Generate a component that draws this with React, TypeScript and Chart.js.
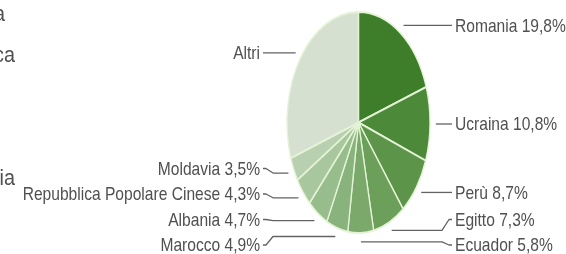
import React, { useEffect, useRef } from 'react';
import { Chart, registerables } from 'chart.js';

Chart.register(...registerables);

// ---- data ----
const CATEGORIES = [
  'Romania',
  'Ucraina',
  'Perù',
  'Egitto',
  'Ecuador',
  'Marocco',
  'Albania',
  'Repubblica Popolare Cinese',
  'Moldavia',
  'Altri',
];
const VALUES = [19.8, 10.8, 8.7, 7.3, 5.8, 4.9, 4.7, 4.3, 3.5, 30.2];
const SHOW_PERCENT = [true, true, true, true, true, true, true, true, true, false];
const COLORS = [
  '#3e7e2b',
  '#4c8a39',
  '#5c9549',
  '#6b9f5a',
  '#7aa96b',
  '#89b37c',
  '#98bd8d',
  '#a8c79f',
  '#b8d0b0',
  '#d6e0d1',
];
// cropped text fragments visible at the left edge of the picture
const EDGE_FRAGMENTS = ['a', 'ca', 'ia'];

// ---- layout / style ----
const SX = 0.647; // horizontal squash of the pie
const TEXT_SX = 0.82; // narrow text
const FONT = '19px "Liberation Sans", Arial, sans-serif';
const FRAG_FONT = '22px "Liberation Sans", Arial, sans-serif';
const TEXT_COLOR = '#505050';
const LINE_COLOR = '#636363';
const GAP = 25.5;
const MAX_Y = 245;
const MIN_Y = 12;
const FRAGMENT_POS = [
  { x: 5, y: 15 },
  { x: 15, y: 56 },
  { x: 15, y: 179 },
];

function fmt(v: number) {
  return v.toFixed(1).replace('.', ',') + '%';
}

function drawText(
  ctx: CanvasRenderingContext2D,
  text: string,
  x: number,
  y: number,
  align: CanvasTextAlign,
  sx: number = TEXT_SX
) {
  ctx.save();
  ctx.translate(x, y);
  ctx.scale(sx, 1);
  ctx.textAlign = align;
  ctx.textBaseline = 'middle';
  ctx.fillText(text, 0, 0);
  ctx.restore();
}

const squashPlugin = {
  id: 'squashPie',
  beforeDatasetsDraw(chart: any) {
    const arc = chart.getDatasetMeta(0).data[0];
    const ctx = chart.ctx;
    ctx.save();
    if (arc) {
      ctx.translate(arc.x, 0);
      ctx.scale(SX, 1);
      ctx.translate(-arc.x, 0);
    }
  },
  afterDatasetsDraw(chart: any) {
    chart.ctx.restore();
  },
  afterDraw(chart: any) {
    const ctx: CanvasRenderingContext2D = chart.ctx;
    const meta = chart.getDatasetMeta(0);
    const items = meta.data.map((el: any, i: number) => {
      const p = el.getProps(['x', 'y', 'startAngle', 'endAngle', 'outerRadius'], true);
      const a = (p.startAngle + p.endAngle) / 2;
      const r = p.outerRadius + 9;
      const ax = p.x + SX * r * Math.cos(a);
      const ay = p.y + r * Math.sin(a);
      const right = Math.cos(a) >= 0;
      const rx = SX * p.outerRadius;
      const lx = right ? p.x + rx + 22 : p.x - rx - 24;
      return { i, ax, ay, ly: ay, right, lx };
    });

    for (const side of [true, false]) {
      const list = items.filter((it: any) => it.right === side).sort((a: any, b: any) => a.ay - b.ay);
      for (let k = 0; k < list.length; k++) {
        let y = Math.max(list[k].ay, MIN_Y);
        if (k > 0) y = Math.max(y, list[k - 1].ly + GAP);
        list[k].ly = y;
      }
      if (list.length) {
        const last = list[list.length - 1];
        last.ly = Math.min(last.ly, MAX_Y);
        for (let k = list.length - 2; k >= 0; k--) {
          list[k].ly = Math.min(list[k].ly, list[k + 1].ly - GAP);
        }
      }
    }

    ctx.save();
    ctx.strokeStyle = LINE_COLOR;
    ctx.lineWidth = 1.3;
    ctx.lineJoin = 'round';
    ctx.font = FONT;
    ctx.fillStyle = TEXT_COLOR;
    for (const it of items) {
      const dir = it.right ? 1 : -1;
      ctx.beginPath();
      ctx.moveTo(it.ax, it.ay);
      ctx.lineTo(it.lx - dir * 10, it.ay);
      ctx.lineTo(it.lx - dir * 3, it.ly);
      ctx.lineTo(it.lx, it.ly);
      ctx.stroke();
      const label = SHOW_PERCENT[it.i] ? `${CATEGORIES[it.i]} ${fmt(VALUES[it.i])}` : CATEGORIES[it.i];
      drawText(ctx, label, it.lx + dir * 3, it.ly + 1, it.right ? 'left' : 'right');
    }
    ctx.font = FRAG_FONT;
    EDGE_FRAGMENTS.forEach((t, k) => {
      drawText(ctx, t, FRAGMENT_POS[k].x, FRAGMENT_POS[k].y, 'right', 0.9);
    });
    ctx.restore();
  },
};

export default function App() {
  const ref = useRef<HTMLCanvasElement>(null);
  useEffect(() => {
    const chart = new Chart(ref.current as HTMLCanvasElement, {
      type: 'pie',
      data: {
        labels: CATEGORIES,
        datasets: [
          {
            data: VALUES,
            backgroundColor: COLORS,
            borderColor: '#e4f3d6',
            borderWidth: 2,
          },
        ],
      },
      options: {
        animation: false,
        responsive: false,
        devicePixelRatio: 1,
        layout: { padding: { top: 11, bottom: 20, left: 151, right: 0 } },
        plugins: {
          legend: { display: false },
          tooltip: { enabled: false },
        },
      },
      plugins: [squashPlugin],
    } as any);
    return () => chart.destroy();
  }, []);
  return (
    <div style={{ position: 'fixed', left: 0, top: 0, width: 566, height: 254, background: '#ffffff' }}>
      <canvas ref={ref} width={566} height={254} style={{ display: 'block' }} />
    </div>
  );
}
